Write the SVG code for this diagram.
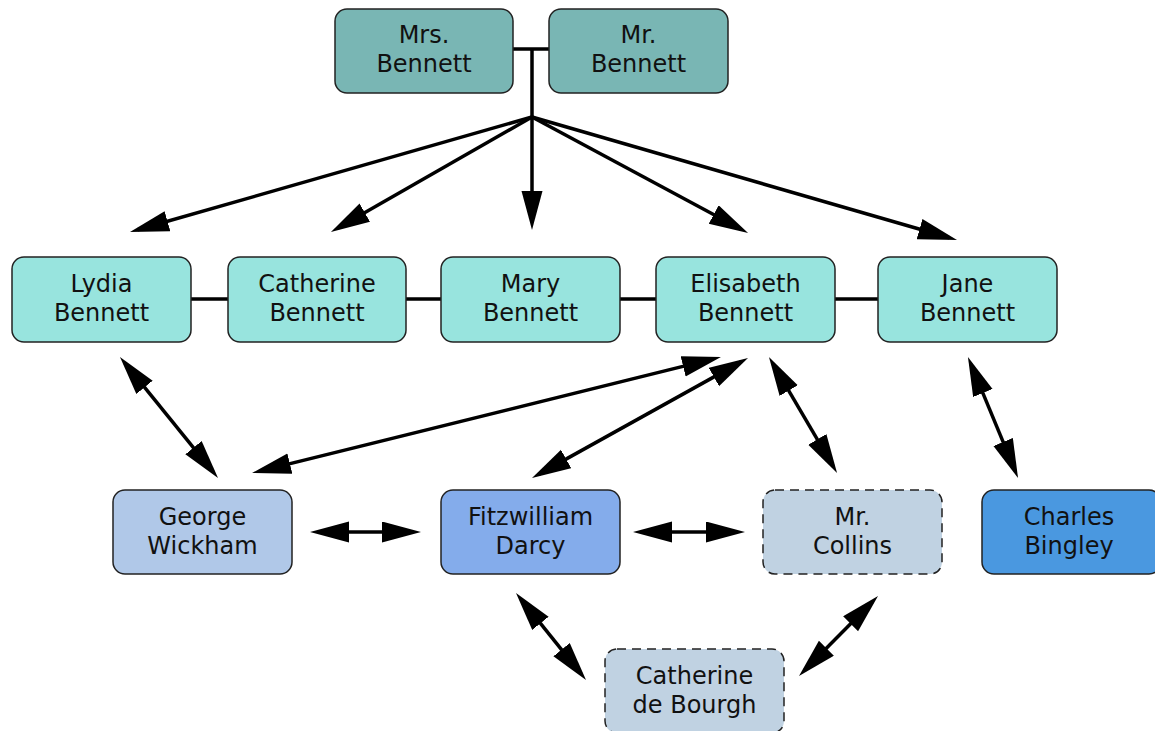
<svg xmlns="http://www.w3.org/2000/svg" width="1155" height="731" viewBox="0 0 1155 731">
<style>
.n{stroke:#222;stroke-width:1.5}
.d{stroke-dasharray:9,6}
.t{font-family:"DejaVu Sans","Verdana",sans-serif;font-size:24px;fill:#111;text-anchor:middle}
.l{fill:none;stroke:#000;stroke-width:3.5}
.a{marker-end:url(#ah)}
.b{marker-start:url(#ah);marker-end:url(#ah)}
</style>
<defs>
<marker id="ah" markerUnits="userSpaceOnUse" markerWidth="40" markerHeight="22" refX="31" refY="10.5" orient="auto-start-reverse" viewBox="0 0 40 22">
<path d="M0,0 L39,10.5 L0,21 z" fill="#000"/>
</marker>
</defs>
<rect width="1155" height="731" fill="#fff"/>
<g id="connectors">
<path class="l" d="M513,49 H549 M532,49 V117"/>
<path class="l" d="M191,299 H228 M406,299 H441 M620,299 H656 M835,299 H878"/>
<path class="l a" d="M532,117 L137.7,229.8"/>
<path class="l a" d="M532,117 L337.9,228"/>
<path class="l a" d="M532,117 L532,222"/>
<path class="l a" d="M532,117 L741,229.2"/>
<path class="l a" d="M532,117 L949.3,237.8"/>
<path class="l b" d="M125,363.2 L213,471.8"/>
<path class="l b" d="M713.2,358.9 L259.8,471.1"/>
<path class="l b" d="M741,361.9 L539,474.1"/>
<path class="l b" d="M773,363.9 L833,466.1"/>
<path class="l b" d="M971,364.4 L1015,470.6"/>
<path class="l b" d="M318,532 L413,532"/>
<path class="l b" d="M641,532 L737,532"/>
<path class="l b" d="M521,599.2 L581,673.8"/>
<path class="l b" d="M872.4,601.7 L804.6,670.3"/>
</g>
<g id="mrs-bennett"><rect class="n" x="335" y="9" width="178" height="84" rx="12" fill="#79b6b4"/><text class="t" x="424" y="43">Mrs.</text><text class="t" x="424" y="72">Bennett</text></g>
<g id="mr-bennett"><rect class="n" x="549" y="9" width="179" height="84" rx="12" fill="#79b6b4"/><text class="t" x="638.5" y="43">Mr.</text><text class="t" x="638.5" y="72">Bennett</text></g>
<g id="lydia"><rect class="n" x="12" y="257" width="179" height="85" rx="12" fill="#98e4de"/><text class="t" x="101.5" y="292">Lydia</text><text class="t" x="101.5" y="321">Bennett</text></g>
<g id="catherine"><rect class="n" x="228" y="257" width="178" height="85" rx="12" fill="#98e4de"/><text class="t" x="317" y="292">Catherine</text><text class="t" x="317" y="321">Bennett</text></g>
<g id="mary"><rect class="n" x="441" y="257" width="179" height="85" rx="12" fill="#98e4de"/><text class="t" x="530.5" y="292">Mary</text><text class="t" x="530.5" y="321">Bennett</text></g>
<g id="elisabeth"><rect class="n" x="656" y="257" width="179" height="85" rx="12" fill="#98e4de"/><text class="t" x="745.5" y="292">Elisabeth</text><text class="t" x="745.5" y="321">Bennett</text></g>
<g id="jane"><rect class="n" x="878" y="257" width="179" height="85" rx="12" fill="#98e4de"/><text class="t" x="967.5" y="292">Jane</text><text class="t" x="967.5" y="321">Bennett</text></g>
<g id="wickham"><rect class="n" x="113" y="490" width="179" height="84" rx="12" fill="#b0c8e8"/><text class="t" x="202.5" y="525">George</text><text class="t" x="202.5" y="554">Wickham</text></g>
<g id="darcy"><rect class="n" x="441" y="490" width="179" height="84" rx="12" fill="#84aceb"/><text class="t" x="530.5" y="525">Fitzwilliam</text><text class="t" x="530.5" y="554">Darcy</text></g>
<g id="collins"><rect class="n d" x="763" y="490" width="179" height="84" rx="12" fill="#c0d2e2"/><text class="t" x="852.5" y="525">Mr.</text><text class="t" x="852.5" y="554">Collins</text></g>
<g id="bingley"><rect class="n" x="982" y="490" width="179" height="84" rx="12" fill="#4a98e0"/><text class="t" x="1069" y="525">Charles</text><text class="t" x="1069" y="554">Bingley</text></g>
<g id="de-bourgh"><rect class="n d" x="605" y="649" width="179" height="84" rx="12" fill="#c0d2e2"/><text class="t" x="694.5" y="684">Catherine</text><text class="t" x="694.5" y="713">de Bourgh</text></g>
</svg>
